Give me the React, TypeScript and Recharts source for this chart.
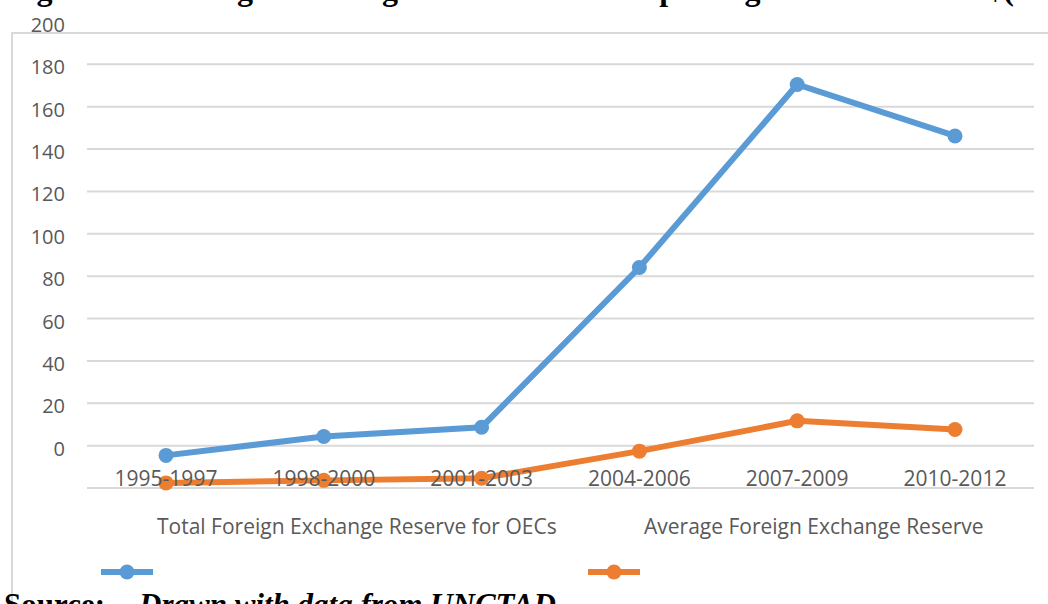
import React from 'react';
import { LineChart, Line, XAxis, YAxis, CartesianGrid, Legend } from 'recharts';

const periods = ['1995-1997', '1998-2000', '2001-2003', '2004-2006', '2007-2009', '2010-2012'];
const totalReserve = [-4.6, 4.3, 8.7, 84.1, 170.5, 146.2];
const averageReserve = [-17.6, -16.4, -15.4, -2.6, 11.7, 7.6];
const yTicks = [-20, 0, 20, 40, 60, 80, 100, 120, 140, 160, 180, 200];
const seriesNames = ['Total Foreign Exchange Reserve for OECs', 'Average Foreign Exchange Reserve'];
const seriesColors = ['#5B9BD5', '#ED7D31'];

const titleText = 'Figure 3.2: Foreign Exchange Reserve of Oil Exporting Countries in US$(Billion)';

const chartData = periods.map((p, i) => ({
  period: p,
  total: totalReserve[i],
  average: averageReserve[i],
}));

const labelFont = '"Open Sans", sans-serif';
const textGrey = '#595959';
const legendLeft = [100, 587];

const XTick = ({ x, y, payload }: any) => (
  <text x={x} y={y} dy={-2} textAnchor="middle" fill={textGrey} fontSize={21} fontFamily={labelFont}>
    {payload.value}
  </text>
);

const YTick = ({ x, y, payload }: any) => (
  <text x={x} y={y} dy={10} textAnchor="end" fill={textGrey} fontSize={20} fontFamily={labelFont}>
    {payload.value === -20 ? '' : payload.value}
  </text>
);

const LegendContent = ({ payload }: any) => (
  <div style={{ position: 'relative', height: 70 }}>
    {(payload || []).map((entry: any) => {
      const i = seriesNames.indexOf(entry.value);
      return (
        <div key={entry.value} style={{ position: 'absolute', left: legendLeft[i], top: 0 }}>
          <div
            style={{
              marginLeft: 57,
              whiteSpace: 'nowrap',
              fontFamily: labelFont,
              fontSize: 21,
              lineHeight: '21px',
              color: textGrey,
            }}
          >
            {entry.value}
          </div>
          <svg width={52} height={16} style={{ position: 'absolute', left: 1, top: 48 }}>
            <line x1={0} x2={52} y1={8} y2={8} stroke={entry.color} strokeWidth={6} />
            <circle cx={26} cy={8} r={7.5} fill={entry.color} />
          </svg>
        </div>
      );
    })}
  </div>
);

export default function App() {
  return (
    <div
      style={{
        position: 'absolute',
        top: 0,
        left: 0,
        width: 1048,
        height: 604,
        overflow: 'hidden',
        background: '#fff',
      }}
    >
      {/* chart frame, only its left and top edges fall inside the crop */}
      <div
        style={{
          position: 'absolute',
          left: 11,
          top: 32,
          width: 1060,
          height: 620,
          border: '2px solid #D9D9D9',
        }}
      />
      <div
        style={{
          position: 'absolute',
          left: 8,
          top: -27,
          whiteSpace: 'nowrap',
          fontFamily: '"Liberation Serif", serif',
          fontWeight: 'bold',
          fontSize: 32,
          lineHeight: '32px',
        }}
      >
        {titleText}
      </div>
      <div style={{ position: 'absolute', left: 0, top: 0 }}>
        <LineChart
          width={1048}
          height={604}
          data={chartData}
          margin={{ top: 22, right: 14, bottom: 115, left: 0 }}
        >
          <CartesianGrid
            vertical={false}
            stroke="#D9D9D9"
            strokeWidth={2}
            horizontalValues={yTicks.filter(v => v < 200)}
          />
          <XAxis
            dataKey="period"
            height={1}
            padding={{ left: 79, right: 79 }}
            axisLine={false}
            tickLine={false}
            tickSize={0}
            tickMargin={0}
            tick={<XTick />}
            interval={0}
          />
          <YAxis
            width={87}
            domain={[-20, 200]}
            ticks={yTicks}
            interval={0}
            axisLine={false}
            tickLine={false}
            tickSize={0}
            tickMargin={22}
            tick={<YTick />}
          />
          <Legend
            layout="horizontal"
            verticalAlign="middle"
            align="center"
            content={<LegendContent />}
            wrapperStyle={{ top: 516, left: 0, width: 1048 }}
          />
          <Line
            name={seriesNames[0]}
            dataKey="total"
            stroke={seriesColors[0]}
            strokeWidth={6}
            dot={{ r: 7.5, fill: seriesColors[0], stroke: seriesColors[0], strokeWidth: 0 }}
            activeDot={false}
            isAnimationActive={false}
          />
          <Line
            name={seriesNames[1]}
            dataKey="average"
            stroke={seriesColors[1]}
            strokeWidth={6}
            dot={{ r: 7.5, fill: seriesColors[1], stroke: seriesColors[1], strokeWidth: 0 }}
            activeDot={false}
            isAnimationActive={false}
          />
        </LineChart>
      </div>
      <div
        style={{
          position: 'absolute',
          left: 4,
          top: 589,
          whiteSpace: 'nowrap',
          fontFamily: '"Liberation Serif", serif',
          fontWeight: 'bold',
          fontSize: 31,
          lineHeight: '31px',
        }}
      >
        Source:<span style={{ display: 'inline-block', width: 34 }} />
        <i>Drawn with data from UNCTAD</i>
      </div>
    </div>
  );
}
